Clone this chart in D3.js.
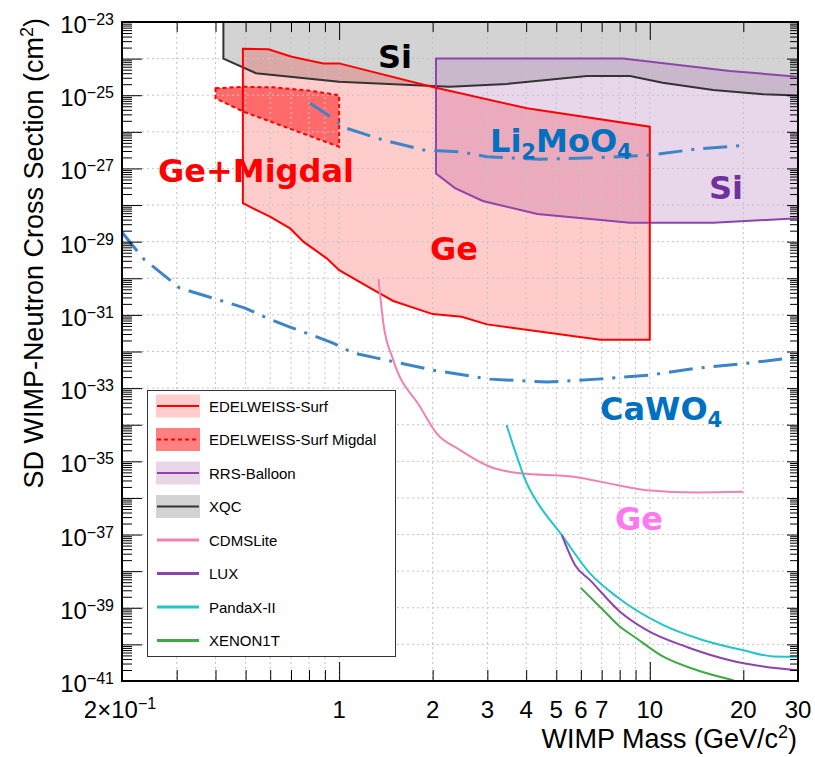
<!DOCTYPE html>
<html>
<head>
<meta charset="utf-8">
<script src="https://cdn.jsdelivr.net/npm/d3@7"></script>
<style>
  body { margin: 0; background: #fff; }
  svg { display: block; }
</style>
</head>
<body>
<script>
// ---------------- data (WIMP mass in GeV/c^2, SD cross section in cm^2) ----------------

// XQC: excluded region lies above this curve
const xqcMass  = [0.424, 0.424, 0.54, 1.0, 2.0, 2.27, 3.47, 6.28, 8.64, 11.0, 16.0, 23.2, 30];
const xqcSigma = [1e-23, 1.0e-24, 4.0e-25, 2.35e-25, 1.78e-25, 1.7e-25, 2.04e-25, 3.35e-25, 3.35e-25, 2.2e-25, 1.38e-25, 1.06e-25, 9.8e-26];

// RRS-Balloon excluded band
const rrsMassUpper  = [2.05, 8.2, 18.1, 30];
const rrsSigmaUpper = [1.0e-24, 1.0e-24, 4.6e-25, 3.2e-25];
const rrsMassLower  = [2.05, 2.36, 2.90, 4.34, 8.64, 16.0, 30];
const rrsSigmaLower = [7.3e-28, 2.9e-28, 1.29e-28, 5.7e-29, 3.3e-29, 3.3e-29, 4.35e-29];

// EDELWEISS-Surf excluded band
const edwMassUpper  = [0.49, 0.592, 0.704, 0.889, 1.0, 2.0, 4.02, 10.0];
const edwSigmaUpper = [1.86e-24, 1.8e-24, 1.13e-24, 7.4e-25, 7.4e-25, 1.67e-25, 4.4e-26, 1.38e-26];
const edwMassLower  = [0.49, 0.599, 0.695, 0.767, 0.912, 1.0, 1.32, 1.494, 2.0, 2.48, 2.99, 6.92, 10.0];
const edwSigmaLower = [1.12e-28, 4.8e-29, 2.3e-29, 1.0e-29, 3.5e-30, 1.67e-30, 4.3e-31, 2.4e-31, 1.05e-31, 8.9e-32, 5.5e-32, 2.1e-32, 2.1e-32];

// EDELWEISS-Surf Migdal excluded band
const migMassUpper  = [0.4, 0.49, 0.614, 0.806, 1.0];
const migSigmaUpper = [1.55e-25, 1.7e-25, 1.64e-25, 1.33e-25, 1.0e-25];
const migMassLower  = [0.4, 0.49, 1.0];
const migSigmaLower = [8.2e-26, 3.6e-26, 3.9e-27];

// CaWO4 projection
const cawoMass  = [0.2, 0.235, 0.307, 0.429, 0.498, 0.586, 0.695, 0.818, 0.956, 1.109, 1.324, 2.0, 3.06, 4.67, 6.77, 10.0, 14.2, 20.6, 30];
const cawoSigma = [1.8e-29, 3.35e-30, 5.4e-31, 2.28e-31, 1.53e-31, 8.2e-32, 4.65e-32, 2.8e-32, 1.7e-32, 9.1e-33, 6.6e-33, 3.1e-33, 1.76e-33, 1.46e-33, 1.76e-33, 2.26e-33, 3.5e-33, 4.8e-33, 7.0e-33];

// Li2MoO4 projection
const limoMass  = [0.806, 0.935, 1.058, 1.388, 1.867, 2.45, 2.99, 4.43, 6.75, 10.0, 14.2, 19.5];
const limoSigma = [6.0e-26, 2.6e-26, 1.25e-26, 5.97e-27, 3.2e-27, 2.86e-27, 2.09e-27, 1.78e-27, 1.96e-27, 2.32e-27, 3.4e-27, 4.17e-27];

// CDMSLite
const cdmsMass  = [1.339, 1.388, 1.494, 1.822, 2.06, 2.45, 3.06, 3.82, 5.68, 7.83, 9.78, 14.2, 20.0];
const cdmsSigma = [9.5e-31, 5.9e-32, 5.8e-33, 3.1e-34, 5.8e-35, 2.04e-35, 7.1e-36, 4.7e-36, 3.8e-36, 2.25e-36, 1.63e-36, 1.41e-36, 1.47e-36];

// PandaX-II
const pandaMass  = [3.46, 3.63, 3.80, 3.94, 4.12, 4.34, 5.21, 6.42, 7.83, 11.06, 14.88, 20.0, 25.0, 30];
const pandaSigma = [9.8e-35, 2.77e-35, 8.9e-36, 3.7e-36, 1.63e-36, 7.7e-37, 9.6e-38, 8.7e-39, 2.0e-39, 3.35e-40, 1.3e-40, 6.9e-41, 4.7e-41, 4.6e-41];

// LUX
const luxMass  = [5.21, 5.75, 6.42, 8.02, 9.78, 13.16, 18.1, 23.2, 30];
const luxSigma = [9.6e-38, 1.46e-38, 5.7e-39, 7.8e-40, 2.45e-40, 8.5e-41, 3.7e-41, 2.5e-41, 1.97e-41];

// XENON1T
const xenonMass  = [6.0, 7.09, 7.92, 9.08, 11.06, 14.2, 18.6];
const xenonSigma = [3.5e-39, 8.6e-40, 3.35e-40, 1.45e-40, 4.6e-41, 1.97e-41, 1.05e-41];

// axis tick labels
const xTickValues = [0.2, 1, 2, 3, 4, 5, 6, 7, 10, 20, 30];
const xTickLabels = ["2×10", "1", "2", "3", "4", "5", "6", "7", "10", "20", "30"];
const yLabelExponents = [-23, -25, -27, -29, -31, -33, -35, -37, -39, -41];

// legend entries
const legendNames = ["EDELWEISS-Surf", "EDELWEISS-Surf Migdal", "RRS-Balloon", "XQC",
                     "CDMSLite", "LUX", "PandaX-II", "XENON1T"];

// ---------------- layout & styles ----------------
const W = 815, H = 757;
const L = 122, T = 22, R = 798, B = 681;

const C = {
  red: "#ff0000", redFill: "rgba(255,0,0,0.2)", migFill: "#ff6b6b",
  purple: "#8e44ad", purpleFill: "rgba(180,120,190,0.3)",
  gray: "#d3d3d3", dark: "#333333",
  blue: "#3d85c6", blueText: "#0070c0",
  pink: "#ee82b4", cyan: "#22c5c8", green: "#3cab44",
  siPurple: "#7030a0", gePink: "#ff78f0"
};

const legendStyle = {
  "EDELWEISS-Surf":        { fill: "#ffcccc", stroke: C.red, dash: null, w: 2 },
  "EDELWEISS-Surf Migdal": { fill: "#ff8080", stroke: C.red, dash: "4,3", w: 2 },
  "RRS-Balloon":           { fill: "#e8d6e8", stroke: C.purple, dash: null, w: 2 },
  "XQC":                   { fill: "#d3d3d3", stroke: C.dark, dash: null, w: 2 },
  "CDMSLite":              { fill: null, stroke: C.pink, dash: null, w: 3 },
  "LUX":                   { fill: null, stroke: C.purple, dash: null, w: 3 },
  "PandaX-II":             { fill: null, stroke: C.cyan, dash: null, w: 3 },
  "XENON1T":               { fill: null, stroke: C.green, dash: null, w: 3 }
};

const AXFONT = "'Liberation Sans', Arial, sans-serif";
const LBFONT = "'DejaVu Sans', sans-serif";

// ---------------- scales ----------------
const x = d3.scaleLog().domain([0.2, 30]).range([L, R]);
const y = d3.scaleLog().domain([1e-41, 1e-23]).range([B, T]);

const zip = (a, b) => a.map((v, i) => [v, b[i]]);
const line = d3.line().x(d => x(d[0])).y(d => y(d[1]));
const smooth = d3.line().x(d => x(d[0])).y(d => y(d[1])).curve(d3.curveMonotoneX);

const svg = d3.select("body").append("svg")
  .attr("width", W).attr("height", H)
  .attr("viewBox", `0 0 ${W} ${H}`);

svg.append("rect").attr("width", W).attr("height", H).attr("fill", "#fff");

svg.append("clipPath").attr("id", "plotClip")
  .append("rect").attr("x", L).attr("y", T).attr("width", R - L).attr("height", B - T);

const plot = svg.append("g").attr("clip-path", "url(#plotClip)");

// ---------------- band fills ----------------
const xqcPts = zip(xqcMass, xqcSigma);
const xqcPoly = xqcPts.concat([[30, 1e-23]]);
const rrsPoly = zip(rrsMassUpper, rrsSigmaUpper).concat(zip(rrsMassLower, rrsSigmaLower).reverse());
const edwPoly = zip(edwMassUpper, edwSigmaUpper).concat(zip(edwMassLower, edwSigmaLower).reverse());
const migPoly = zip(migMassUpper, migSigmaUpper).concat(zip(migMassLower, migSigmaLower).reverse());

plot.append("path").attr("d", line(xqcPoly) + "Z").attr("fill", C.gray);
plot.append("path").attr("d", line(rrsPoly) + "Z").attr("fill", C.purpleFill);
plot.append("path").attr("d", line(edwPoly) + "Z").attr("fill", C.redFill);
plot.append("path").attr("d", line(migPoly) + "Z").attr("fill", C.migFill);

// ---------------- grid ----------------
const gridX = [0.3, 0.4, 0.5, 0.6, 0.7, 0.8, 0.9, 1, 2, 3, 4, 5, 6, 7, 8, 9, 10, 20];
const decades = d3.range(-40, -23).map(e => +("1e" + e));
const grid = plot.append("g").attr("stroke", "#c4c4c4").attr("stroke-width", 1)
  .attr("stroke-dasharray", "2,3");
grid.selectAll("line.gx").data(gridX).join("line")
  .attr("x1", d => x(d)).attr("x2", d => x(d)).attr("y1", T).attr("y2", B);
grid.selectAll("line.gy").data(decades).join("line")
  .attr("y1", d => y(d)).attr("y2", d => y(d)).attr("x1", L).attr("x2", R);

// ---------------- band outlines ----------------
plot.append("path").attr("d", line(xqcPts)).attr("fill", "none")
  .attr("stroke", C.dark).attr("stroke-width", 2);
plot.append("path").attr("d", line(rrsPoly) + "Z").attr("fill", "none")
  .attr("stroke", C.purple).attr("stroke-width", 2);
plot.append("path").attr("d", line(edwPoly) + "Z").attr("fill", "none")
  .attr("stroke", C.red).attr("stroke-width", 2);
plot.append("path").attr("d", line(migPoly) + "Z").attr("fill", "none")
  .attr("stroke", C.red).attr("stroke-width", 2).attr("stroke-dasharray", "4,3");

// ---------------- projections (dash-dot) ----------------
[[cawoMass, cawoSigma], [limoMass, limoSigma]].forEach(([m, s]) => {
  plot.append("path").attr("d", line(zip(m, s))).attr("fill", "none")
    .attr("stroke", C.blue).attr("stroke-width", 3)
    .attr("stroke-dasharray", "24,9,3,9");
});

// ---------------- direct-detection limits ----------------
[[cdmsMass, cdmsSigma, C.pink], [pandaMass, pandaSigma, C.cyan],
 [luxMass, luxSigma, C.purple], [xenonMass, xenonSigma, C.green]].forEach(([m, s, c]) => {
  plot.append("path").attr("d", smooth(zip(m, s))).attr("fill", "none")
    .attr("stroke", c).attr("stroke-width", 2);
});

// ---------------- in-plot labels ----------------
function richText(g, px, py, parts, size, color) {
  const t = g.append("text").attr("x", px).attr("y", py)
    .attr("font-family", LBFONT).attr("font-weight", "bold")
    .attr("font-size", size).attr("fill", color);
  let shift = 0;
  parts.forEach(p => {
    const target = p.sub ? 7 : 0;
    t.append("tspan").attr("dy", target - shift)
      .attr("font-size", p.sub ? size * 0.66 : size).text(p.t);
    shift = target;
  });
  return t;
}
const labels = svg.append("g");
richText(labels, 378, 68, [{ t: "Si" }], 32, "#000");
richText(labels, 158, 182, [{ t: "Ge+Migdal" }], 32, C.red);
richText(labels, 430, 260, [{ t: "Ge" }], 32, C.red);
richText(labels, 490, 152, [{ t: "Li" }, { t: "2", sub: true }, { t: "MoO" }, { t: "4", sub: true }], 32, C.blueText);
richText(labels, 709, 199, [{ t: "Si" }], 32, C.siPurple);
richText(labels, 600, 420, [{ t: "CaWO" }, { t: "4", sub: true }], 32, C.blueText);
richText(labels, 615, 530, [{ t: "Ge" }], 32, C.gePink);

// ---------------- axes (ticks) ----------------
const xMinor = [0.3, 0.4, 0.5, 0.6, 0.7, 0.8, 0.9, 2, 3, 4, 5, 6, 7, 8, 9, 20];
const xMajor = [1, 10];
const yMajor = d3.range(-41, -22).map(e => +("1e" + e));
const yMinor = [];
for (let e = -41; e < -23; e++) for (let k = 2; k <= 9; k++) yMinor.push(+(k + "e" + e));

function addAxis(axis, tx, ty) {
  const g = svg.append("g").attr("transform", `translate(${tx},${ty})`).call(axis);
  g.select(".domain").remove();
  g.selectAll("line").attr("stroke", "#000").attr("stroke-width", 1);
  g.selectAll("text").remove();
}
addAxis(d3.axisBottom(x).tickValues(xMinor).tickSize(-11).tickSizeOuter(0), 0, B);
addAxis(d3.axisBottom(x).tickValues(xMajor).tickSize(-19).tickSizeOuter(0), 0, B);
addAxis(d3.axisTop(x).tickValues(xMinor).tickSize(-10).tickSizeOuter(0), 0, T);
addAxis(d3.axisTop(x).tickValues(xMajor).tickSize(-18).tickSizeOuter(0), 0, T);
addAxis(d3.axisLeft(y).tickValues(yMinor).tickSize(-10).tickSizeOuter(0), L, 0);
addAxis(d3.axisLeft(y).tickValues(yMajor).tickSize(-20).tickSizeOuter(0), L, 0);
addAxis(d3.axisRight(y).tickValues(yMinor).tickSize(-8).tickSizeOuter(0), R, 0);
addAxis(d3.axisRight(y).tickValues(yMajor).tickSize(-11).tickSizeOuter(0), R, 0);

// frame
svg.append("rect").attr("x", L).attr("y", T).attr("width", R - L).attr("height", B - T)
  .attr("fill", "none").attr("stroke", "#000").attr("stroke-width", 2);

// ---------------- tick labels ----------------
const tl = svg.append("g").attr("font-family", AXFONT).attr("fill", "#000");
yLabelExponents.forEach(e => {
  const t = tl.append("text").attr("x", L - 8).attr("y", y(+("1e" + e)) + 11)
    .attr("text-anchor", "end").attr("font-size", 24);
  t.append("tspan").text("10");
  t.append("tspan").attr("dy", -8).attr("font-size", 16).text("\u2212" + Math.abs(e));
});
xTickValues.forEach((v, i) => {
  const t = tl.append("text").attr("y", 718).attr("font-size", 24).attr("text-anchor", "middle");
  if (v === 0.2) {
    t.attr("x", x(v) - 2);
    t.append("tspan").text(xTickLabels[i]);
    t.append("tspan").attr("dy", -9).attr("font-size", 16).text("\u22121");
  } else {
    t.attr("x", x(v)).text(xTickLabels[i]);
  }
});

// axis titles
const xt = tl.append("text").attr("x", R - 1).attr("y", 748).attr("text-anchor", "end").attr("font-size", 27);
xt.append("tspan").text("WIMP Mass (GeV/c");
xt.append("tspan").attr("dy", -10).attr("font-size", 18).text("2");
xt.append("tspan").attr("dy", 10).text(")");

const yt = tl.append("text").attr("transform", "translate(43,18) rotate(-90)")
  .attr("text-anchor", "end").attr("font-size", 27);
yt.append("tspan").text("SD WIMP-Neutron Cross Section (cm");
yt.append("tspan").attr("dy", -10).attr("font-size", 18).text("2");
yt.append("tspan").attr("dy", 10).text(")");

// ---------------- legend ----------------
const lg = svg.append("g");
lg.append("rect").attr("x", 147.5).attr("y", 390.5).attr("width", 248).attr("height", 266)
  .attr("fill", "#fff").attr("stroke", "#333").attr("stroke-width", 1);
legendNames.forEach((name, i) => {
  const cy = 406 + i * 33.5;
  const st = legendStyle[name];
  if (st.fill) {
    lg.append("rect").attr("x", 156).attr("y", cy - 11.5).attr("width", 44).attr("height", 23)
      .attr("fill", st.fill);
  }
  lg.append("line").attr("x1", 157).attr("x2", 199).attr("y1", cy).attr("y2", cy)
    .attr("stroke", st.stroke).attr("stroke-width", st.w)
    .attr("stroke-dasharray", st.dash);
  lg.append("text").attr("x", 209).attr("y", cy + 5.5)
    .attr("font-family", AXFONT).attr("font-size", 15).attr("fill", "#000").text(name);
});
</script>
</body>
</html>
